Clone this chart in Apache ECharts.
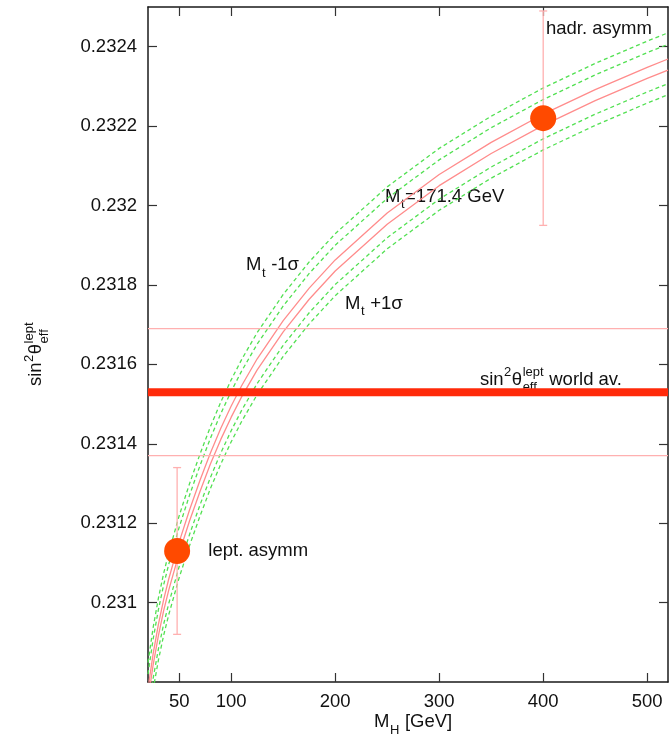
<!DOCTYPE html>
<html>
<head>
<meta charset="utf-8">
<script src="https://cdn.jsdelivr.net/npm/echarts@6/dist/echarts.min.js"></script>
<style>
  html, body { margin: 0; padding: 0; background: #fff; }
  #chart { width: 670px; height: 749px; }
</style>
</head>
<body>
<div id="chart"></div>
<script>
// ---- axes ----
const X_MIN = 20, X_MAX = 520;
const Y_MIN = 0.2308, Y_MAX = 0.2325;
const xTicks = [50, 100, 200, 300, 400, 500];
const yTicks = [0.2310, 0.2312, 0.2314, 0.2316, 0.2318, 0.2320, 0.2322, 0.2324];

// ---- SM prediction of sin2theta_eff(lept) versus M_H ----
const mH = [20, 25, 30, 35, 40, 50, 60, 70, 80, 90, 100, 110, 125, 150, 175, 200, 250, 300, 350, 400, 450, 500, 520];
// central top mass (two edges of the band)
const sin2CentralUpper = [0.230783, 0.230872, 0.230945, 0.231007, 0.231060, 0.231153, 0.231234, 0.231308, 0.231377, 0.231439, 0.231495, 0.231546, 0.231614, 0.231710, 0.231792, 0.231863, 0.231981, 0.232078, 0.232159, 0.232230, 0.232292, 0.232348, 0.232369];
const sin2CentralLower = [0.230755, 0.230844, 0.230917, 0.230979, 0.231032, 0.231125, 0.231206, 0.231280, 0.231349, 0.231411, 0.231467, 0.231518, 0.231586, 0.231682, 0.231764, 0.231835, 0.231953, 0.232050, 0.232131, 0.232202, 0.232264, 0.232320, 0.232341];
// Mt - 1 sigma
const sin2MtMinusOuter = [0.230849, 0.230938, 0.231011, 0.231073, 0.231126, 0.231219, 0.231300, 0.231374, 0.231443, 0.231505, 0.231561, 0.231612, 0.231680, 0.231776, 0.231858, 0.231929, 0.232047, 0.232144, 0.232225, 0.232296, 0.232358, 0.232414, 0.232435];
const sin2MtMinusInner = [0.230820, 0.230909, 0.230982, 0.231044, 0.231097, 0.231190, 0.231271, 0.231345, 0.231414, 0.231476, 0.231532, 0.231583, 0.231651, 0.231747, 0.231829, 0.231900, 0.232018, 0.232115, 0.232196, 0.232267, 0.232329, 0.232385, 0.232406];
// Mt + 1 sigma
const sin2MtPlusInner = [0.230721, 0.230810, 0.230883, 0.230945, 0.230998, 0.231091, 0.231172, 0.231246, 0.231315, 0.231377, 0.231433, 0.231484, 0.231552, 0.231648, 0.231730, 0.231801, 0.231919, 0.232016, 0.232097, 0.232168, 0.232230, 0.232286, 0.232307];
const sin2MtPlusOuter = [0.230693, 0.230782, 0.230855, 0.230917, 0.230970, 0.231063, 0.231144, 0.231218, 0.231287, 0.231349, 0.231405, 0.231456, 0.231524, 0.231620, 0.231702, 0.231773, 0.231891, 0.231988, 0.232069, 0.232140, 0.232202, 0.232258, 0.232279];

// ---- measurements ----
const measNames = ['lept. asymm', 'hadr. asymm'];
const measMH = [48, 400];
const measSin2 = [0.23113, 0.23222];
const measErr = [0.00021, 0.00027];
const worldAv = 0.23153;
const worldAvErr = 0.00016;
const topMass = '171.4';

// ---- styling ----
const FONT = '"Liberation Sans", Arial, Helvetica, sans-serif';
const MAIN = 18.5, SCRIPT = 13, SUP_DY = -7, SUB_DY = 8;
const TEXT = '#111';
const RED_CURVE = '#ff8c8c';
const GREEN_CURVE = '#52e052';
const BAND_LINE = '#ffb0b0';
const WORLD_LINE = '#ff2a0a';
const POINT = '#ff4a00';

const pairs = arr => mH.map((m, i) => [m, arr[i]]);
const hLine = v => [[X_MIN, v], [X_MAX, v]];

function curve(name, arr, color, dashed) {
  return {
    name, type: 'line', data: pairs(arr), symbol: 'none',
    smooth: false, clip: true, z: 2,
    lineStyle: { color, width: 1.3, type: dashed ? [4, 3] : 'solid' },
    emphasis: { disabled: true }
  };
}

const axisLine = { show: true, onZero: false, lineStyle: { color: '#1a1a1a', width: 1.5 } };
const tickStyle = { color: '#333', width: 1.2 };
const labelStyle = { fontSize: MAIN, fontFamily: FONT, color: TEXT };

const chart = echarts.init(document.getElementById('chart'), null, { renderer: 'canvas' });

chart.setOption({
  animation: false,
  backgroundColor: '#fff',
  grid: { left: 148, right: 2, top: 7, bottom: 67, show: false },
  xAxis: [
    {
      type: 'value', min: X_MIN, max: X_MAX, position: 'bottom',
      axisLine, splitLine: { show: false },
      axisTick: { inside: true, length: 9, customValues: xTicks, lineStyle: tickStyle },
      axisLabel: Object.assign({ customValues: xTicks, margin: 10 }, labelStyle)
    },
    {
      type: 'value', min: X_MIN, max: X_MAX, position: 'top',
      axisLine, splitLine: { show: false },
      axisTick: { inside: true, length: 9, customValues: xTicks, lineStyle: tickStyle },
      axisLabel: { show: false }
    }
  ],
  yAxis: [
    {
      type: 'value', min: Y_MIN, max: Y_MAX, position: 'left',
      axisLine, splitLine: { show: false },
      axisTick: { inside: true, length: 9, customValues: yTicks, lineStyle: tickStyle },
      axisLabel: Object.assign({
        customValues: yTicks, margin: 11,
        formatter: v => String(Number(v.toFixed(4)))
      }, labelStyle)
    },
    {
      type: 'value', min: Y_MIN, max: Y_MAX, position: 'right',
      axisLine, splitLine: { show: false },
      axisTick: { inside: true, length: 9, customValues: yTicks, lineStyle: tickStyle },
      axisLabel: { show: false }
    }
  ],
  series: [
    curve('Mt -1sigma outer', sin2MtMinusOuter, GREEN_CURVE, true),
    curve('Mt -1sigma inner', sin2MtMinusInner, GREEN_CURVE, true),
    curve('Mt +1sigma inner', sin2MtPlusInner, GREEN_CURVE, true),
    curve('Mt +1sigma outer', sin2MtPlusOuter, GREEN_CURVE, true),
    curve('Mt central upper', sin2CentralUpper, RED_CURVE, false),
    curve('Mt central lower', sin2CentralLower, RED_CURVE, false),
    {
      name: 'world av. +1sigma', type: 'line', data: hLine(worldAv + worldAvErr), symbol: 'none', z: 3,
      lineStyle: { color: BAND_LINE, width: 1.3 }
    },
    {
      name: 'world av. -1sigma', type: 'line', data: hLine(worldAv - worldAvErr), symbol: 'none', z: 3,
      lineStyle: { color: BAND_LINE, width: 1.3 }
    },
    {
      name: 'world av.', type: 'line', data: hLine(worldAv), symbol: 'none', z: 4,
      lineStyle: { color: WORLD_LINE, width: 8 }
    },
    {
      name: 'error bars', type: 'custom', z: 5,
      data: measMH.map((m, i) => [m, measSin2[i], measErr[i]]),
      renderItem: (params, api) => {
        const x = api.value(0), y = api.value(1), e = api.value(2);
        const top = api.coord([x, y + e]);
        const bot = api.coord([x, y - e]);
        const cap = 4;
        const style = { stroke: BAND_LINE, lineWidth: 1.3 };
        return {
          type: 'group',
          children: [
            { type: 'line', shape: { x1: top[0], y1: top[1], x2: bot[0], y2: bot[1] }, style },
            { type: 'line', shape: { x1: top[0] - cap, y1: top[1], x2: top[0] + cap, y2: top[1] }, style },
            { type: 'line', shape: { x1: bot[0] - cap, y1: bot[1], x2: bot[0] + cap, y2: bot[1] }, style }
          ]
        };
      }
    },
    {
      name: 'measurements', type: 'scatter', z: 6,
      data: measMH.map((m, i) => [m, measSin2[i]]),
      symbol: 'circle', symbolSize: 26,
      itemStyle: { color: POINT, opacity: 1 },
      emphasis: { disabled: true }
    }
  ]
});

// ---- composite labels with sub/superscripts ----
const measureCtx = document.createElement('canvas').getContext('2d');
function textWidth(t, size) {
  measureCtx.font = size + 'px ' + FONT;
  return measureCtx.measureText(t).width;
}
function txt(t, x, y, size) {
  return {
    type: 'text', x, y, silent: true,
    style: { text: t, fontSize: size, fontFamily: FONT, fill: TEXT, align: 'left', verticalAlign: 'middle' }
  };
}
function layoutPieces(pieces) {
  let x = 0;
  const children = [];
  pieces.forEach(p => {
    if (typeof p === 'string') {
      children.push(txt(p, x, 0, MAIN));
      x += textWidth(p, MAIN);
    } else {
      let w = 0;
      if (p.sup) { children.push(txt(p.sup, x + 0.5, SUP_DY, SCRIPT)); w = Math.max(w, textWidth(p.sup, SCRIPT)); }
      if (p.sub) { children.push(txt(p.sub, x + 0.5, SUB_DY, SCRIPT)); w = Math.max(w, textWidth(p.sub, SCRIPT)); }
      x += w + 1;
    }
  });
  return { children, width: x };
}

const sin2Pieces = ['sin', { sup: '2' }, 'θ', { sup: 'lept', sub: 'eff' }];
const annotations = [
  { at: [402.7, 0.232445], pieces: [measNames[1]] },
  { at: [measMH[0] + 30, measSin2[0]], pieces: [measNames[0]] },
  { at: [247.9, 0.232022], pieces: ['M', { sub: 't' }, '=' + topMass + ' GeV'] },
  { at: [114.2, 0.231850], pieces: ['M', { sub: 't' }, ' -1σ'] },
  { at: [209.4, 0.231753], pieces: ['M', { sub: 't' }, ' +1σ'] },
  { at: [339.2, 0.231561], pieces: sin2Pieces.concat([' world av.']) }
];

const graphics = annotations.map(a => {
  const p = chart.convertToPixel({ xAxisIndex: 0, yAxisIndex: 0 }, a.at);
  const lay = layoutPieces(a.pieces);
  return { type: 'group', x: p[0], y: p[1], z: 100, children: lay.children };
});

// x axis title
const xTitle = layoutPieces(['M', { sub: 'H' }, ' [GeV]']);
graphics.push({ type: 'group', x: 374, y: 722, z: 100, children: xTitle.children });

// y axis title, reading upwards
const yTitle = layoutPieces(sin2Pieces);
graphics.push({
  type: 'group', x: 36, y: 354 + yTitle.width / 2, rotation: Math.PI / 2, z: 100,
  children: yTitle.children
});

chart.setOption({ graphic: graphics });
</script>
</body>
</html>
